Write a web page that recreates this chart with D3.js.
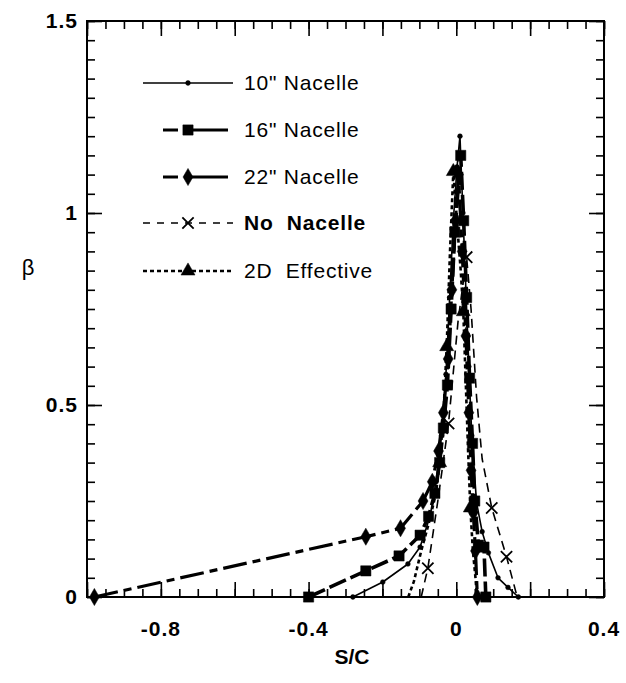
<!DOCTYPE html>
<html>
<head>
<meta charset="utf-8">
<script src="https://cdn.jsdelivr.net/npm/d3@7/dist/d3.min.js"></script>
<style>
  html, body { margin: 0; padding: 0; background: #fff; }
  svg { display: block; }
  text { white-space: pre; }
</style>
</head>
<body>
<svg id="chart" width="626" height="683"></svg>
<script>
// ---- data: stagnation-point spread beta vs. surface distance S/C ----
const sc10   = [-0.28, -0.199, -0.131, -0.098, -0.071, -0.055, -0.04, -0.028, -0.018, -0.008, 0.002, 0.01, 0.018, 0.026, 0.034, 0.042, 0.055, 0.07, 0.087, 0.113, 0.14, 0.168];
const beta10 = [0, 0.039, 0.086, 0.13, 0.21, 0.30, 0.42, 0.58, 0.78, 0.98, 1.12, 1.20, 1.0, 0.80, 0.60, 0.42, 0.245, 0.17, 0.115, 0.05, 0.025, 0];

const sc16   = [-0.40, -0.245, -0.155, -0.098, -0.075, -0.058, -0.045, -0.035, -0.024, -0.014, -0.004, 0.012, 0.02, 0.028, 0.036, 0.044, 0.05, 0.06, 0.075, 0.08];
const beta16 = [0, 0.068, 0.107, 0.161, 0.21, 0.27, 0.35, 0.44, 0.552, 0.75, 0.95, 1.15, 0.98, 0.78, 0.57, 0.40, 0.25, 0.135, 0.13, 0];

const sc22   = [-0.98, -0.245, -0.151, -0.09, -0.065, -0.048, -0.035, -0.022, -0.012, -0.002, 0.006, 0.016, 0.026, 0.034, 0.04, 0.046, 0.052, 0.057];
const beta22 = [0, 0.157, 0.179, 0.25, 0.30, 0.38, 0.48, 0.62, 0.80, 0.98, 1.10, 0.90, 0.68, 0.48, 0.33, 0.22, 0.12, 0];

const scNo   = [-0.095, -0.077, -0.05, -0.021, 0.005, 0.028, 0.04, 0.055, 0.07, 0.096, 0.136, 0.165];
const betaNo = [0, 0.075, 0.25, 0.452, 0.72, 0.885, 0.75, 0.52, 0.36, 0.232, 0.105, 0];
const markNo = [1, 3, 5, 9, 10];

const sc2d   = [-0.13, -0.115, -0.095, -0.075, -0.055, -0.045, -0.035, -0.026, -0.017, -0.008, 0.004, 0.012, 0.019, 0.026, 0.032, 0.038, 0.045, 0.052, 0.056];
const beta2d = [0, 0.04, 0.12, 0.19, 0.27, 0.35, 0.47, 0.652, 0.9, 1.108, 0.95, 0.85, 0.743, 0.55, 0.38, 0.232, 0.12, 0.05, 0];
const mark2d = [5, 7, 9, 12, 15];

const seriesNames = ['10" Nacelle', '16" Nacelle', '22" Nacelle', 'No  Nacelle', '2D  Effective'];
const xTickLabels = [-0.8, -0.4, 0, 0.4];
const yTickLabels = [0, 0.5, 1, 1.5];

// ---- layout ----
const svg = d3.select("#chart");
const plotL = 87, plotR = 604, plotT = 21, plotB = 597;
const x = d3.scaleLinear().domain([-1, 0.4]).range([plotL, plotR]);
const y = d3.scaleLinear().domain([0, 1.5]).range([plotB, plotT]);

const FONT = "'Liberation Sans', Arial, Helvetica, sans-serif";

// ---- axes: inward ticks on all four sides ----
const xMinor = d3.range(-1, 0.4001, 0.05).map(v => +v.toFixed(2));
const xMajor = d3.range(-1, 0.4001, 0.2).map(v => +v.toFixed(2));
const yMinor = d3.range(0, 1.5001, 0.05).map(v => +v.toFixed(2));
const yMajor = yTickLabels;

function tickLayer(axisGen, values, len, transform) {
  const g = svg.append("g").attr("transform", transform)
    .call(axisGen.tickValues(values).tickSize(len).tickSizeOuter(0).tickFormat(""));
  g.select(".domain").remove();
  g.selectAll(".tick line").attr("stroke", "#000").attr("stroke-width", 1.6);
  return g;
}
tickLayer(d3.axisBottom(x), xMinor, -8, `translate(0,${plotB})`);
tickLayer(d3.axisBottom(x), xMajor, -15, `translate(0,${plotB})`);
tickLayer(d3.axisTop(x), xMinor, -8, `translate(0,${plotT})`);
tickLayer(d3.axisTop(x), xMajor, -15, `translate(0,${plotT})`);
tickLayer(d3.axisLeft(y), yMinor, -8, `translate(${plotL},0)`);
tickLayer(d3.axisLeft(y), yMajor, -15, `translate(${plotL},0)`);
tickLayer(d3.axisRight(y), yMinor, -8, `translate(${plotR},0)`);
tickLayer(d3.axisRight(y), yMajor, -15, `translate(${plotR},0)`);

svg.append("rect")
  .attr("x", plotL).attr("y", plotT)
  .attr("width", plotR - plotL).attr("height", plotB - plotT)
  .attr("fill", "none").attr("stroke", "#000").attr("stroke-width", 2);

// tick labels
const fmt = v => (v === 0 ? "0" : String(v));
svg.append("g").selectAll("text").data(xTickLabels).join("text")
  .attr("x", d => x(d)).attr("y", 636)
  .attr("text-anchor", "middle")
  .attr("font-family", FONT).attr("font-weight", "bold").attr("font-size", 21)
  .attr("letter-spacing", 1)
  .text(fmt);

svg.append("g").selectAll("text").data(yTickLabels).join("text")
  .attr("x", 78).attr("y", d => y(d) + 7)
  .attr("text-anchor", "end")
  .attr("font-family", FONT).attr("font-weight", "bold").attr("font-size", 21)
  .attr("letter-spacing", 1)
  .text(fmt);

// axis titles
svg.append("text")
  .attr("x", 352).attr("y", 664)
  .attr("text-anchor", "middle")
  .attr("font-family", FONT).attr("font-weight", "bold").attr("font-size", 21)
  .text("S/C");
svg.append("text")
  .attr("x", 28).attr("y", 275)
  .attr("text-anchor", "middle")
  .attr("font-family", FONT).attr("font-size", 22)
  .text("β");

// ---- series ----
const series = [
  { name: seriesNames[0], xs: sc10, ys: beta10, width: 1.6, dash: null,        symbol: d3.symbolCircle,   size: 18,  marks: null },
  { name: seriesNames[1], xs: sc16, ys: beta16, width: 3.6, dash: "18,5",      symbol: d3.symbolSquare,   size: 105, marks: null },
  { name: seriesNames[2], xs: sc22, ys: beta22, width: 3.2, dash: "24,6,8,6",  symbol: d3.symbolDiamond,  size: 85,  marks: null },
  { name: seriesNames[3], xs: scNo, ys: betaNo, width: 1.6, dash: "9,6",       symbol: d3.symbolX,        size: 85,  marks: markNo, stroke: true },
  { name: seriesNames[4], xs: sc2d, ys: beta2d, width: 2.6, dash: "4,3",       symbol: d3.symbolTriangle, size: 85,  marks: mark2d }
];

const line = d3.line().x(d => x(d[0])).y(d => y(d[1]));

const plot = svg.append("g");
series.forEach(s => {
  const pts = s.xs.map((v, i) => [v, s.ys[i]]);
  plot.append("path")
    .datum(pts)
    .attr("d", line)
    .attr("fill", "none")
    .attr("stroke", "#000")
    .attr("stroke-width", s.width)
    .attr("stroke-dasharray", s.dash)
    .attr("stroke-linejoin", "round");
  const markPts = s.marks ? s.marks.map(i => pts[i]) : pts;
  plot.append("g").selectAll("path").data(markPts).join("path")
    .attr("transform", d => `translate(${x(d[0])},${y(d[1])})`)
    .attr("d", d3.symbol().type(s.symbol).size(s.size))
    .attr("fill", s.stroke ? "none" : "#000")
    .attr("stroke", "#000")
    .attr("stroke-width", s.stroke ? 1.8 : 0.5);
});

// ---- legend ----
const legendRows = [83, 130, 177, 223, 271];
const legendSpans = [[143, 233], [163, 228], [163, 228], [143, 233], [143, 233]];
const legendDash = [null, "15,6,200", "15,6,200", "7,7", "4,3"];
const legend = svg.append("g");
series.forEach((s, i) => {
  const ly = legendRows[i];
  legend.append("line")
    .attr("x1", legendSpans[i][0]).attr("x2", legendSpans[i][1])
    .attr("y1", ly).attr("y2", ly)
    .attr("stroke", "#000")
    .attr("stroke-width", Math.min(s.width, 3))
    .attr("stroke-dasharray", legendDash[i]);
  legend.append("path")
    .attr("transform", `translate(188,${ly})`)
    .attr("d", d3.symbol().type(s.symbol).size(s.size))
    .attr("fill", s.stroke ? "none" : "#000")
    .attr("stroke", "#000")
    .attr("stroke-width", s.stroke ? 1.8 : 0.5);
  legend.append("text")
    .attr("x", 244).attr("y", ly + 7)
    .attr("font-family", FONT).attr("font-size", 21)
    .attr("font-weight", i === 3 ? "bold" : "normal")
    .attr("letter-spacing", 0.8)
    .text(s.name);
});
</script>
</body>
</html>
